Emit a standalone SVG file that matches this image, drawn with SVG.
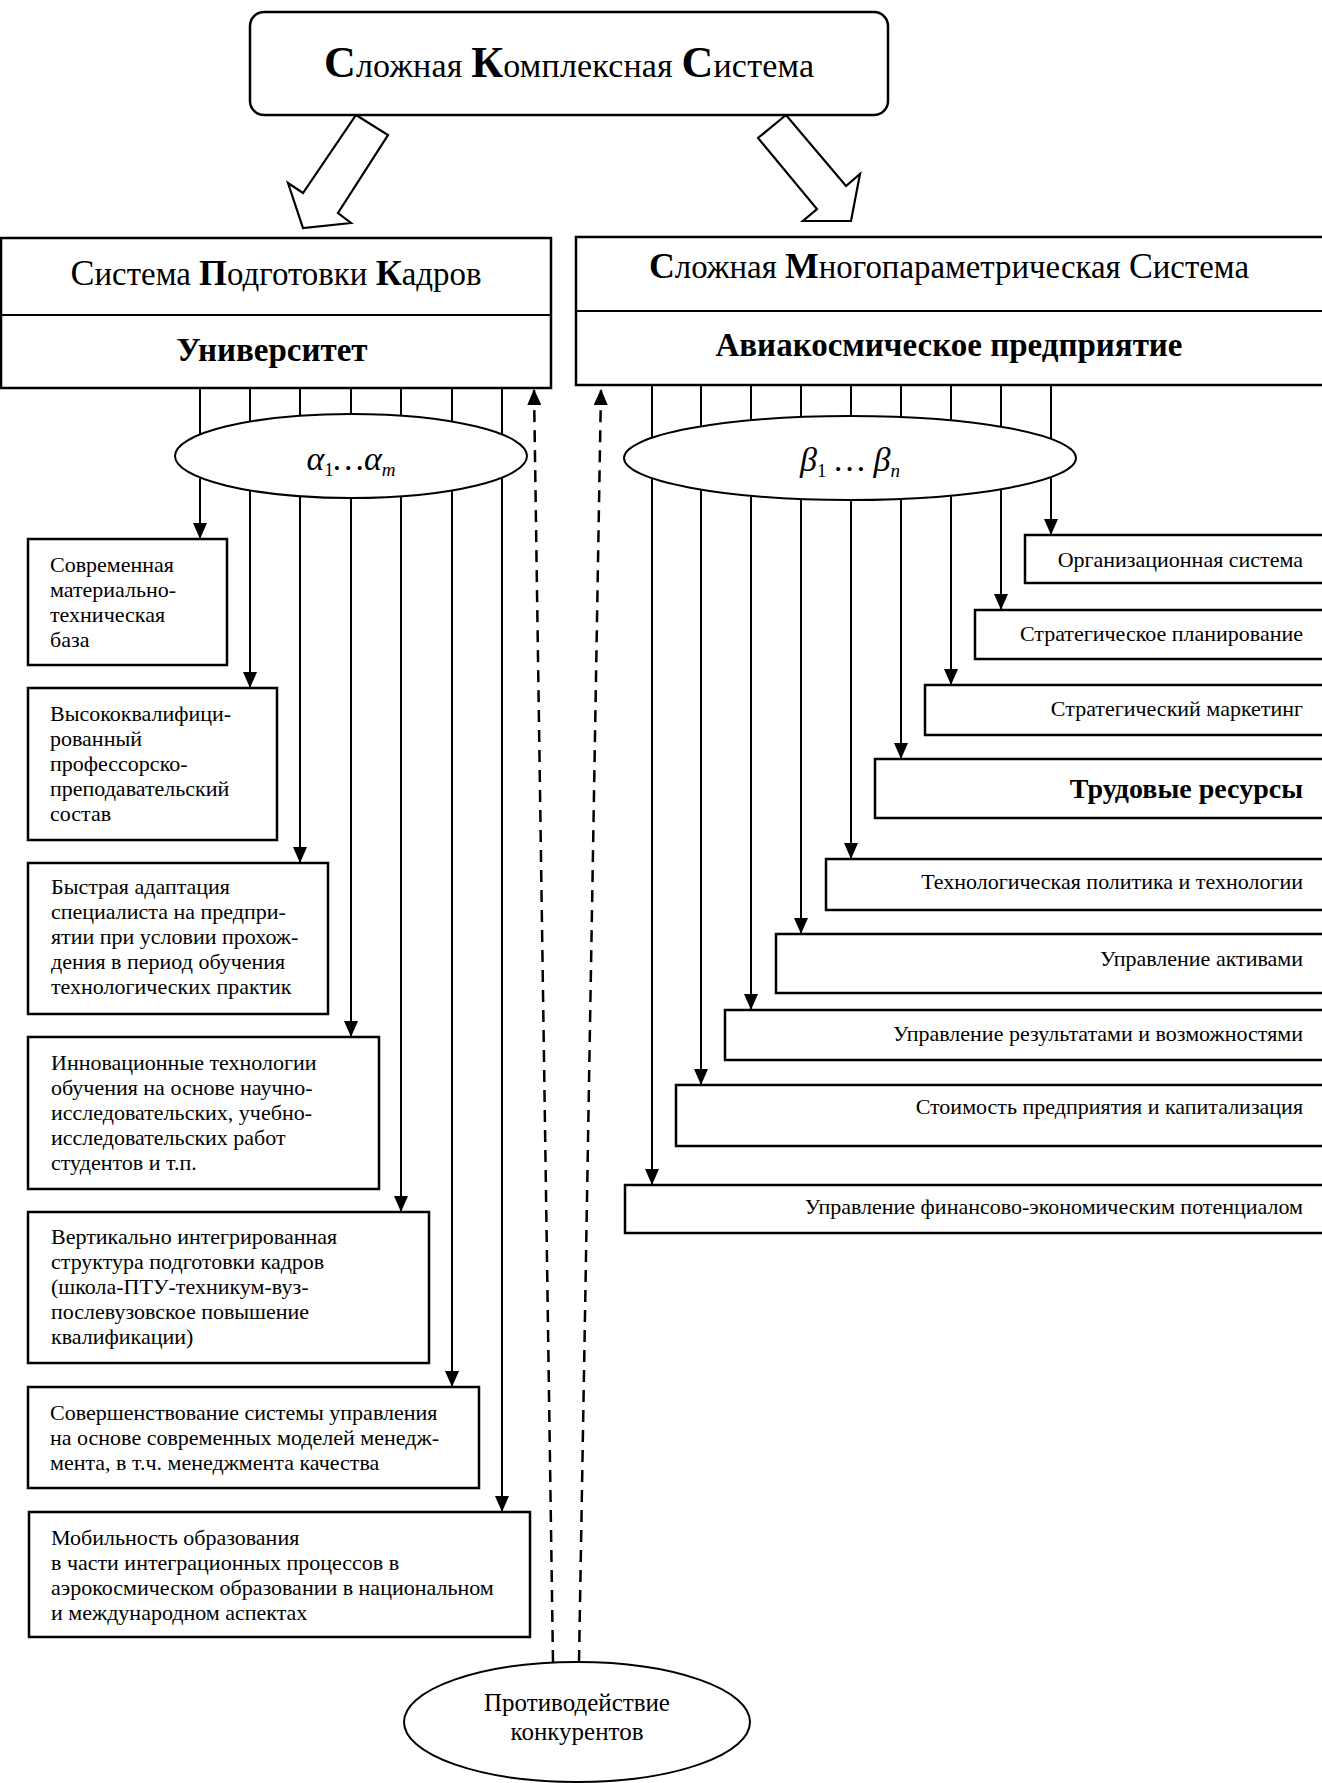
<svg xmlns="http://www.w3.org/2000/svg" width="1322" height="1783" viewBox="0 0 1322 1783">
<style>
text{font-family:"Liberation Serif","Times New Roman",serif;fill:#000}
.box{fill:#fff;stroke:#000;stroke-width:2.5}
.ell{fill:#fff;stroke:#000;stroke-width:2}
.t{font-size:22px}
.tr{font-size:22px;text-anchor:end}
.ln{stroke:#000;stroke-width:2;fill:none}
.dash{stroke:#000;stroke-width:2.5;fill:none;stroke-dasharray:12 8}
.harrow{fill:#fff;stroke:#000;stroke-width:2.2;stroke-linejoin:miter}
</style>
<defs>
<marker id="ah" viewBox="0 0 16 14" markerWidth="16" markerHeight="14" refX="16" refY="7" orient="auto" markerUnits="userSpaceOnUse"><path d="M0,0 L16,7 L0,14 z" fill="#000"/></marker>
</defs>
<rect width="1322" height="1783" fill="#fff"/>

<g id="connectors">
<line class="ln" x1="200" y1="388" x2="200" y2="539" marker-end="url(#ah)"/>
<line class="ln" x1="250" y1="388" x2="250" y2="688" marker-end="url(#ah)"/>
<line class="ln" x1="300" y1="388" x2="300" y2="863" marker-end="url(#ah)"/>
<line class="ln" x1="351" y1="388" x2="351" y2="1037" marker-end="url(#ah)"/>
<line class="ln" x1="401" y1="388" x2="401" y2="1212" marker-end="url(#ah)"/>
<line class="ln" x1="452" y1="388" x2="452" y2="1387" marker-end="url(#ah)"/>
<line class="ln" x1="502" y1="388" x2="502" y2="1512" marker-end="url(#ah)"/>
<line class="ln" x1="1051" y1="385" x2="1051" y2="535" marker-end="url(#ah)"/>
<line class="ln" x1="1001" y1="385" x2="1001" y2="610" marker-end="url(#ah)"/>
<line class="ln" x1="951" y1="385" x2="951" y2="685" marker-end="url(#ah)"/>
<line class="ln" x1="901" y1="385" x2="901" y2="759" marker-end="url(#ah)"/>
<line class="ln" x1="851" y1="385" x2="851" y2="859" marker-end="url(#ah)"/>
<line class="ln" x1="801" y1="385" x2="801" y2="934" marker-end="url(#ah)"/>
<line class="ln" x1="751" y1="385" x2="751" y2="1010" marker-end="url(#ah)"/>
<line class="ln" x1="701" y1="385" x2="701" y2="1085" marker-end="url(#ah)"/>
<line class="ln" x1="652" y1="385" x2="652" y2="1185" marker-end="url(#ah)"/>
<line class="dash" x1="553" y1="1662" x2="534" y2="389" marker-end="url(#ah)"/>
<line class="dash" x1="579" y1="1662" x2="601" y2="389" marker-end="url(#ah)"/>
<polygon class="harrow" points="356,115 388,135 338,213 351,223 303,228 288,183 303,193"/>
<polygon class="harrow" points="786,115 758,138 817,209 803,221 851,221 860,174 846,186"/>
</g>

<g id="top">
<rect class="box" x="250" y="12" width="638" height="103" rx="14"/>
<text x="569" y="77" text-anchor="middle" font-size="34" textLength="490"><tspan font-weight="bold" font-size="44">С</tspan>ложная <tspan font-weight="bold" font-size="44">К</tspan>омплексная <tspan font-weight="bold" font-size="44">С</tspan>истема</text>
</g>

<g id="university">
<rect class="box" x="1" y="238" width="550" height="150"/>
<line class="ln" x1="1" y1="315" x2="551" y2="315" stroke-width="2.5"/>
<text x="276" y="285" text-anchor="middle" font-size="33" textLength="411" lengthAdjust="spacingAndGlyphs"><tspan font-size="36">С</tspan>истема <tspan font-weight="bold" font-size="36">П</tspan>одготовки <tspan font-weight="bold" font-size="36">К</tspan>адров</text>
<text x="272" y="361" text-anchor="middle" font-size="33" font-weight="bold">Университет</text>
</g>

<g id="enterprise">
<rect class="box" x="576" y="237" width="760" height="148"/>
<line class="ln" x1="576" y1="311" x2="1336" y2="311" stroke-width="2.5"/>
<text x="949" y="278" text-anchor="middle" font-size="33" textLength="600" lengthAdjust="spacingAndGlyphs"><tspan font-weight="bold" font-size="36">С</tspan>ложная <tspan font-weight="bold" font-size="36">М</tspan>ногопараметрическая <tspan font-size="36">С</tspan>истема</text>
<text x="949" y="356" text-anchor="middle" font-size="33" font-weight="bold">Авиакосмическое предприятие</text>
</g>

<g id="alpha">
<ellipse class="ell" cx="351" cy="456" rx="176" ry="42"/>
<text x="351" y="470" text-anchor="middle" font-size="34" font-style="italic">α<tspan font-size="19" font-style="normal" dy="6">1</tspan><tspan dy="-6">…α</tspan><tspan font-size="19" dy="6">m</tspan></text>
</g>

<g id="beta">
<ellipse class="ell" cx="850" cy="458" rx="226" ry="42"/>
<text x="850" y="471" text-anchor="middle" font-size="34" font-style="italic">β<tspan font-size="19" font-style="normal" dy="6">1</tspan><tspan dy="-6"> … β</tspan><tspan font-size="19" dy="6">n</tspan></text>
</g>

<g id="n-base">
<rect class="box" x="28" y="539" width="199" height="126"/>
<text class="t"><tspan x="50" y="572">Современная</tspan><tspan x="50" y="597">материально-</tspan><tspan x="50" y="622">техническая</tspan><tspan x="50" y="647">база</tspan></text>
</g>
<g id="n-staff">
<rect class="box" x="28" y="688" width="249" height="152"/>
<text class="t"><tspan x="50" y="721">Высококвалифици-</tspan><tspan x="50" y="746">рованный</tspan><tspan x="50" y="771">профессорско-</tspan><tspan x="50" y="796">преподавательский</tspan><tspan x="50" y="821">состав</tspan></text>
</g>
<g id="n-adapt">
<rect class="box" x="28" y="863" width="300" height="151"/>
<text class="t"><tspan x="51" y="894">Быстрая адаптация</tspan><tspan x="51" y="919">специалиста на предпри-</tspan><tspan x="51" y="944">ятии при условии прохож-</tspan><tspan x="51" y="969">дения в период обучения</tspan><tspan x="51" y="994">технологических практик</tspan></text>
</g>
<g id="n-innov">
<rect class="box" x="28" y="1037" width="351" height="152"/>
<text class="t"><tspan x="51" y="1070">Инновационные технологии</tspan><tspan x="51" y="1095">обучения на основе научно-</tspan><tspan x="51" y="1120">исследовательских, учебно-</tspan><tspan x="51" y="1145">исследовательских работ</tspan><tspan x="51" y="1170">студентов и т.п.</tspan></text>
</g>
<g id="n-vert">
<rect class="box" x="28" y="1212" width="401" height="151"/>
<text class="t"><tspan x="51" y="1244">Вертикально интегрированная</tspan><tspan x="51" y="1269">структура подготовки кадров</tspan><tspan x="51" y="1294">(школа-ПТУ-техникум-вуз-</tspan><tspan x="51" y="1319">послевузовское повышение</tspan><tspan x="51" y="1344">квалификации)</tspan></text>
</g>
<g id="n-mgmt">
<rect class="box" x="28" y="1387" width="451" height="101"/>
<text class="t"><tspan x="50" y="1420">Совершенствование системы управления</tspan><tspan x="50" y="1445">на основе современных моделей менедж-</tspan><tspan x="50" y="1470">мента, в т.ч. менеджмента качества</tspan></text>
</g>
<g id="n-mobil">
<rect class="box" x="29" y="1512" width="501" height="125"/>
<text class="t"><tspan x="51" y="1545">Мобильность образования</tspan><tspan x="51" y="1570">в части интеграционных процессов в</tspan><tspan x="51" y="1595">аэрокосмическом образовании в национальном</tspan><tspan x="51" y="1620">и международном аспектах</tspan></text>
</g>

<g id="r-org"><rect class="box" x="1025" y="535" width="320" height="48"/><text class="tr" x="1303" y="567">Организационная система</text></g>
<g id="r-plan"><rect class="box" x="975" y="610" width="370" height="49"/><text class="tr" x="1303" y="641">Стратегическое планирование</text></g>
<g id="r-mark"><rect class="box" x="925" y="685" width="420" height="50"/><text class="tr" x="1303" y="716">Стратегический маркетинг</text></g>
<g id="r-labor"><rect class="box" x="875" y="759" width="470" height="59"/><text x="1303" y="798" text-anchor="end" font-size="28" font-weight="bold">Трудовые ресурсы</text></g>
<g id="r-tech"><rect class="box" x="826" y="859" width="520" height="51"/><text class="tr" x="1303" y="889">Технологическая политика и технологии</text></g>
<g id="r-assets"><rect class="box" x="776" y="934" width="570" height="59"/><text class="tr" x="1303" y="966">Управление активами</text></g>
<g id="r-results"><rect class="box" x="725" y="1010" width="620" height="50"/><text class="tr" x="1303" y="1041">Управление результатами и возможностями</text></g>
<g id="r-value"><rect class="box" x="676" y="1085" width="670" height="61"/><text class="tr" x="1303" y="1114">Стоимость предприятия и капитализация</text></g>
<g id="r-fin"><rect class="box" x="625" y="1185" width="720" height="48"/><text class="tr" x="1303" y="1214">Управление финансово-экономическим потенциалом</text></g>

<g id="competitors">
<ellipse class="ell" cx="577" cy="1722" rx="173" ry="60"/>
<text x="577" y="1711" text-anchor="middle" font-size="25">Противодействие</text>
<text x="577" y="1740" text-anchor="middle" font-size="25">конкурентов</text>
</g>
</svg>
